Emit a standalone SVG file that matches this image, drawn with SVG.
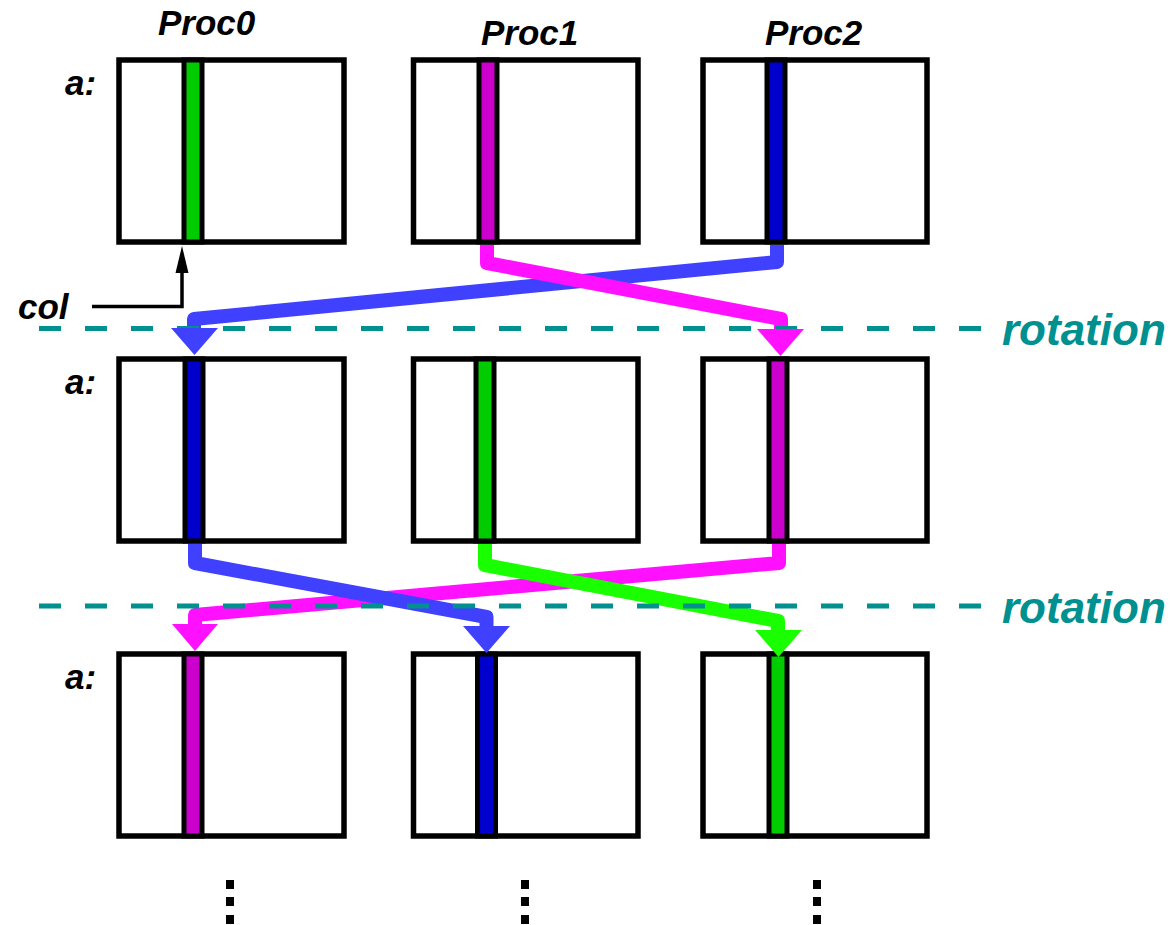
<svg xmlns="http://www.w3.org/2000/svg" width="1171" height="925" viewBox="0 0 1171 925">
<style>
.box{fill:#fff;stroke:#000;stroke-width:5.5}
.st{stroke:#000;stroke-width:5}
.g{fill:#00cc00}.m{fill:#cc00cc}.b{fill:#0000cc}
.lbl{font-family:"Liberation Sans",Arial,sans-serif;font-weight:bold;font-style:italic;font-size:35px;fill:#000}
.rot{font-family:"Liberation Sans",Arial,sans-serif;font-weight:bold;font-style:italic;font-size:44px;fill:#009090}
.arr{fill:none;stroke-width:14;stroke-linejoin:round}
.dash{stroke:#009090;stroke-width:5;stroke-dasharray:22 24}
.dot{fill:#000}
</style>
<g id="labels">
<text class="lbl" x="158" y="35">Proc0</text>
<text class="lbl" x="481" y="45">Proc1</text>
<text class="lbl" x="765" y="45">Proc2</text>
<text class="lbl" x="65" y="95">a:</text>
<text class="lbl" x="65" y="394">a:</text>
<text class="lbl" x="65" y="689">a:</text>
<text class="lbl" x="18" y="319">col</text>
</g>
<g id="row1-proc0"><rect class="box" x="119" y="60" width="225" height="182"/><rect class="st g" x="184" y="60" width="18" height="182"/></g>
<g id="row1-proc1"><rect class="box" x="413.5" y="60" width="224.5" height="182"/><rect class="st m" x="479" y="60" width="18" height="182"/></g>
<g id="row1-proc2"><rect class="box" x="703" y="60" width="224" height="182"/><rect class="st b" x="767" y="60" width="18" height="182"/></g>
<g id="row2-proc0"><rect class="box" x="119" y="359" width="225" height="182"/><rect class="st b" x="185" y="359" width="18" height="182"/></g>
<g id="row2-proc1"><rect class="box" x="413.5" y="359" width="224.5" height="182"/><rect class="st g" x="476" y="359" width="18" height="182"/></g>
<g id="row2-proc2"><rect class="box" x="703" y="359" width="224" height="182"/><rect class="st m" x="769" y="359" width="18" height="182"/></g>
<g id="row3-proc0"><rect class="box" x="119" y="654" width="225" height="182"/><rect class="st m" x="184" y="654" width="18" height="182"/></g>
<g id="row3-proc1"><rect class="box" x="413.5" y="654" width="224.5" height="182"/><rect class="st b" x="477.5" y="654" width="18" height="182"/></g>
<g id="row3-proc2"><rect class="box" x="703" y="654" width="224" height="182"/><rect class="st g" x="769" y="654" width="18" height="182"/></g>
<g id="connectors">
<polyline points="92,306.5 182,306.5 182,271" fill="none" stroke="#000" stroke-width="3.5"/>
<polygon points="175.5,273 188.5,273 182,246" fill="#000"/>
<path class="arr" stroke="#4040ff" d="M777 245 V262 L194 319 V330"/>
<path class="arr" stroke="#ff10ff" d="M487 245 V263 L781 319 V331"/>
<path class="arr" stroke="#ff10ff" d="M779 544 V563 L195 615 V626"/>
<path class="arr" stroke="#4040ff" d="M195 544 V563 L486.5 617 V628"/>
<path class="arr" stroke="#1aff00" d="M485 544 V565 L778 621 V632"/>
<line class="dash" x1="39" y1="328.5" x2="982" y2="328.5"/>
<line class="dash" x1="39" y1="606" x2="982" y2="606"/>
<polygon points="171,328 218,328 194.5,355" fill="#4040ff"/>
<polygon points="757,329 804,329 780.5,356" fill="#ff10ff"/>
<polygon points="172,624 218,624 195,651" fill="#ff10ff"/>
<polygon points="463,626 510,626 486.5,653" fill="#4040ff"/>
<polygon points="755,630 802,630 778.5,657" fill="#1aff00"/>
</g>
<g id="rotation-labels">
<text class="rot" x="1002" y="345">rotation</text>
<text class="rot" x="1002" y="623">rotation</text>
</g>
<g id="ellipses">
<rect class="dot" x="226" y="880" width="8" height="9"/><rect class="dot" x="226" y="897" width="8" height="9"/><rect class="dot" x="226" y="915" width="8" height="9"/>
<rect class="dot" x="521" y="880" width="8" height="9"/><rect class="dot" x="521" y="897" width="8" height="9"/><rect class="dot" x="521" y="915" width="8" height="9"/>
<rect class="dot" x="813" y="880" width="8" height="9"/><rect class="dot" x="813" y="897" width="8" height="9"/><rect class="dot" x="813" y="915" width="8" height="9"/>
</g>
</svg>
